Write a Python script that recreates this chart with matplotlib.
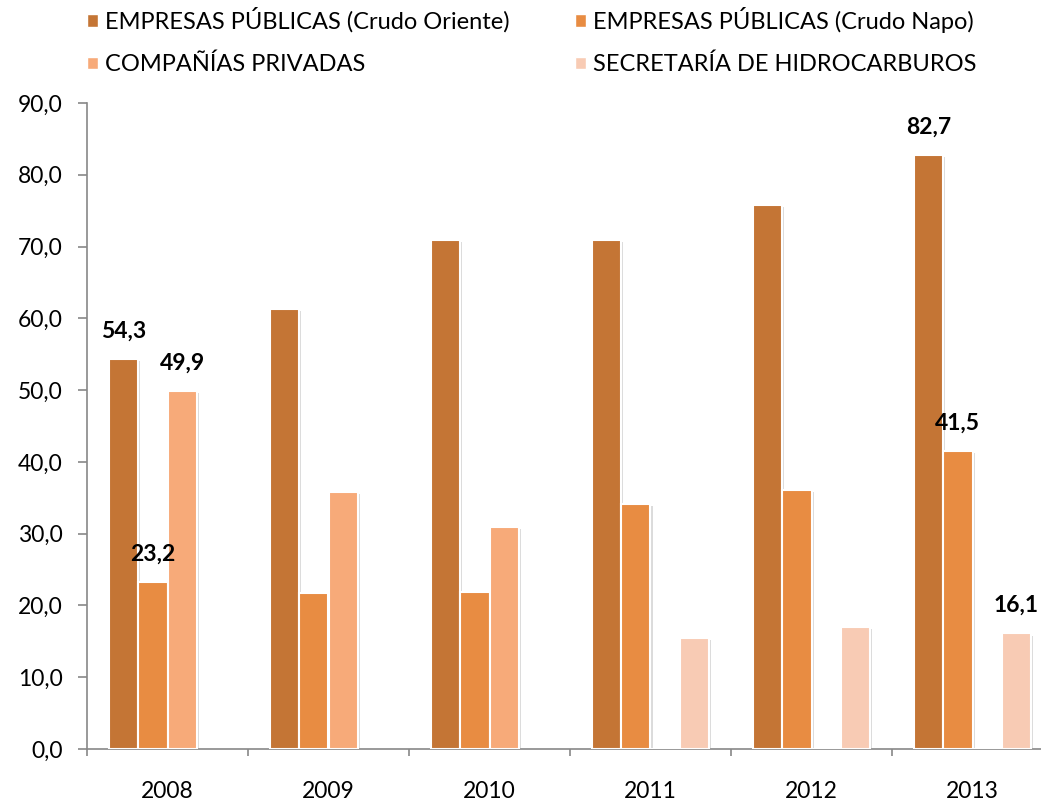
import numpy as np
import matplotlib
matplotlib.use("Agg")
import matplotlib.pyplot as plt
import matplotlib.patheffects as pe
from matplotlib.patches import Patch

years = ["2008", "2009", "2010", "2011", "2012", "2013"]
series_names = [
    "EMPRESAS PÚBLICAS (Crudo Oriente)",
    "EMPRESAS PÚBLICAS (Crudo Napo)",
    "COMPAÑÍAS PRIVADAS",
    "SECRETARÍA DE HIDROCARBUROS",
]
crudo_oriente = [54.3, 61.3, 70.9, 70.9, 75.8, 82.7]
crudo_napo = [23.2, 21.7, 21.9, 34.2, 36.1, 41.5]
privadas = [49.9, 35.8, 30.9, 0.0, 0.0, 0.0]
secretaria = [np.nan, np.nan, np.nan, 15.5, 17.0, 16.1]
colors = ["#C47535", "#E88C42", "#F7AA79", "#F8CBB4"]

# which bars carry a value label: (series index, year index)
labelled = [(0, 0), (1, 0), (2, 0), (0, 5), (1, 5), (3, 5)]

plt.rcParams["font.family"] = ["Lato", "DejaVu Sans"]

fig = plt.figure(figsize=(10.41, 8.01), dpi=100)
ax = fig.add_axes([87 / 1041, 52 / 801, 966 / 1041, 646 / 801])

data = [crudo_oriente, crudo_napo, privadas, secretaria]
x = np.arange(len(years))
w = 0.182
shadow = [pe.SimplePatchShadow(offset=(1.5, -1.5), shadow_rgbFace="#999999", alpha=0.35), pe.Normal()]
for i, vals in enumerate(data):
    pos = x + (i - 1.5) * w
    bars = ax.bar(pos, vals, width=w, color=colors[i], edgecolor="white", linewidth=1.5, zorder=3)
    for b in bars:
        b.set_path_effects(shadow)
    for (si, yi) in labelled:
        if si == i:
            ax.annotate(f"{vals[yi]:.1f}".replace(".", ","), (pos[yi], vals[yi]),
                        xytext=(0, 20), textcoords="offset points", ha="center", va="center",
                        fontsize=16.5, fontweight="bold", color="black", zorder=5)

ax.set_ylim(0, 90)
ax.set_xlim(-0.5, len(years) - 0.5)
ax.set_yticks(np.arange(0, 91, 10))
ax.set_yticklabels([f"{v:.1f}".replace(".", ",") for v in np.arange(0, 91, 10)])
ax.set_xticks(np.arange(-0.5, len(years), 1))
ax.set_xticklabels([])
ax.set_xticks(x, minor=True)
ax.set_xticklabels(years, minor=True)
ax.tick_params(axis="x", which="major", length=5, color="#888888", width=1.2)
ax.tick_params(axis="x", which="minor", length=0, labelsize=16.5, pad=23)
ax.tick_params(axis="y", length=6.5, color="#888888", width=1.2, labelsize=16.5, pad=11)
for s in ["top", "right"]:
    ax.spines[s].set_visible(False)
for s in ["left", "bottom"]:
    ax.spines[s].set_color("#888888")
    ax.spines[s].set_linewidth(1.2)

handles = [Patch(facecolor=c, edgecolor="white") for c in colors]
order = [0, 2, 1, 3]
fig.legend([handles[k] for k in order], [series_names[k] for k in order],
           loc="upper left", bbox_to_anchor=(87 / 1041, 1 - 7 / 801), ncol=2, frameon=False,
           fontsize=17, handlelength=0.45, handleheight=0.45, handletextpad=0.3,
           columnspacing=2.8, labelspacing=0.88, borderpad=0, borderaxespad=0)

fig.savefig("out.png", dpi=100)
